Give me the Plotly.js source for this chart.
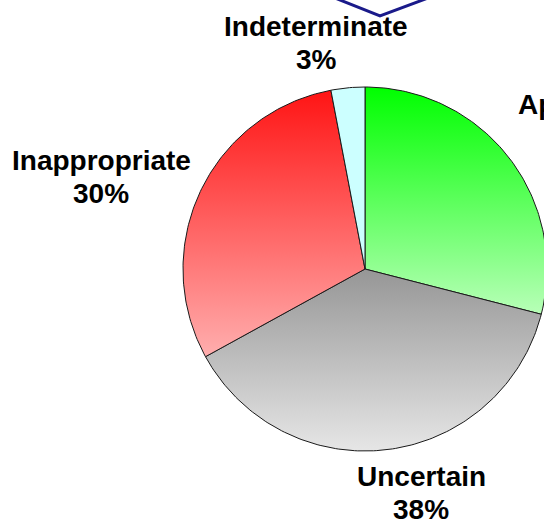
<!DOCTYPE html>
<html>
<head>
<meta charset="utf-8">
<script src="https://cdn.plot.ly/plotly-3.0.1.min.js"></script>
<style>html,body{margin:0;padding:0;background:#fff;overflow:hidden}#chart{width:544px;height:522px}</style>
</head>
<body>
<div id="chart"></div>
<script>
// Data
var categories = ['Appropriate', 'Uncertain', 'Inappropriate', 'Indeterminate'];
var shares = [29, 38, 30, 3];
// Styles (top colour, bottom colour of each slice's vertical gradient)
var topColors = ['#00ff00', '#969696', '#ff1414', '#ccffff'];
var bottomColors = ['#b8ffb8', '#e6e6e6', '#ffaeae', '#ccffff'];
// Label placement (pixel space): x, centre of first line, anchor
var labelPos = [
  {x: 516, y: 104, xanchor: 'left'},
  {x: 421, y: 476, xanchor: 'center'},
  {x: 101, y: 160, xanchor: 'center'},
  {x: 316, y: 26, xanchor: 'center'}
];
var lineGap = 33;

var cx = 365, cy = 269, R = 182;
var total = shares.reduce(function(a, b) { return a + b; }, 0);
var traces = [];
var cum = 0;
for (var i = 0; i < shares.length; i++) {
  var a0 = cum / total * 360;
  cum += shares[i];
  var a1 = cum / total * 360;
  var xs = [cx], ys = [cy];
  var n = Math.max(4, Math.ceil(a1 - a0));
  for (var k = 0; k <= n; k++) {
    var a = (a0 + (a1 - a0) * k / n) * Math.PI / 180;
    xs.push(cx + R * Math.sin(a));
    ys.push(cy - R * Math.cos(a));
  }
  xs.push(cx); ys.push(cy);
  var ymin = Math.min.apply(null, ys), ymax = Math.max.apply(null, ys);
  traces.push({
    type: 'scatter', mode: 'lines', x: xs, y: ys, name: categories[i],
    fill: 'toself',
    fillgradient: {type: 'vertical', start: ymin, stop: ymax,
      colorscale: [[0, topColors[i]], [1, bottomColors[i]]]},
    line: {color: '#1a1a1a', width: 1},
    hoverinfo: 'skip', showlegend: false
  });
}

var font = {family: 'Liberation Sans, Arial, sans-serif', size: 28, color: '#000'};
var annotations = [];
categories.forEach(function(c, i) {
  var p = labelPos[i];
  var pct = Math.round(shares[i] / total * 100) + '%';
  if (p.xanchor === 'left') {
    // cropped right-hand label: one two-line block, percentage centred under name
    annotations.push({
      x: p.x, y: p.y - 17, xref: 'x', yref: 'y', xanchor: 'left', yanchor: 'top',
      showarrow: false, align: 'center',
      text: '<b>' + c + '</b><br><b>' + pct + '</b>', font: font
    });
  } else {
    annotations.push({
      x: p.x, y: p.y, xref: 'x', yref: 'y', xanchor: 'center', yanchor: 'middle',
      showarrow: false, text: '<b>' + c + '</b>', font: font
    });
    annotations.push({
      x: p.x, y: p.y + lineGap, xref: 'x', yref: 'y', xanchor: 'center', yanchor: 'middle',
      showarrow: false, text: '<b>' + pct + '</b>', font: font
    });
  }
});

var layout = {
  width: 544, height: 522,
  margin: {l: 0, r: 0, t: 0, b: 0},
  paper_bgcolor: '#ffffff', plot_bgcolor: '#ffffff',
  xaxis: {range: [0, 544], visible: false, fixedrange: true},
  yaxis: {range: [522, 0], visible: false, fixedrange: true},
  annotations: annotations,
  shapes: [{type: 'path', xref: 'x', yref: 'y',
    path: 'M 335 -2 L 380 16 L 428 -2',
    line: {color: '#1a1a8a', width: 3}}],
  showlegend: false
};

Plotly.newPlot('chart', traces, layout, {displayModeBar: false, staticPlot: true});
</script>
</body>
</html>
